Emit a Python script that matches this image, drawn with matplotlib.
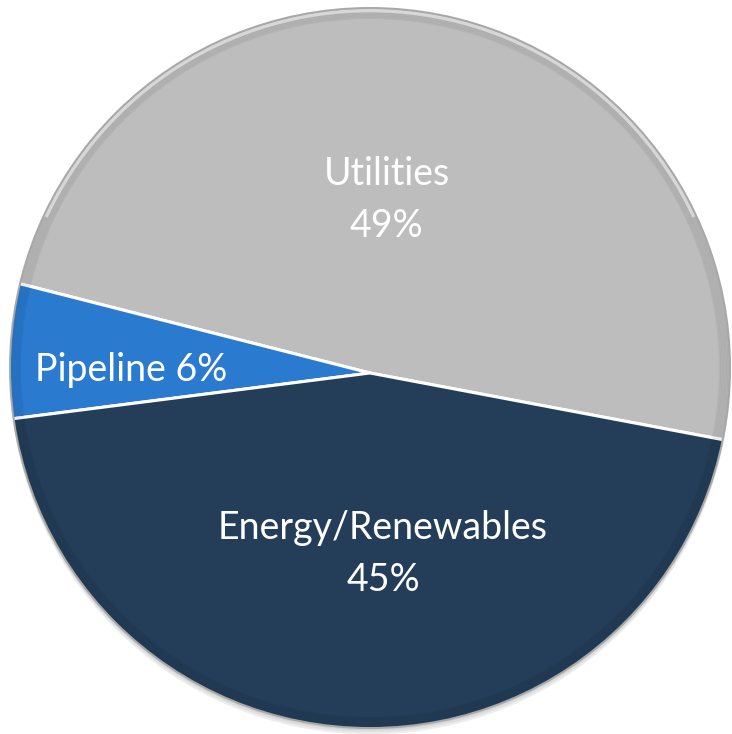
import matplotlib
matplotlib.use("Agg")
import matplotlib.pyplot as plt
from matplotlib.patches import Circle, Wedge

categories = ["Utilities", "Pipeline", "Energy/Renewables"]
values = [49, 6, 45]
colors = ["#BDBDBD", "#2A7ACF", "#243E59"]
labels = ["Utilities\n49%", "Pipeline 6%", "Energy/Renewables\n45%"]

fig = plt.figure(figsize=(7.32, 7.34), dpi=100)
ax = fig.add_axes([0, 0, 1, 1])

# soft shadow below the disc
for i, a in enumerate([0.06, 0.06, 0.07]):
    ax.add_patch(Circle((0.0, -0.006 * (i + 1)), 1.0, facecolor="black",
                        alpha=a, edgecolor="none", zorder=0))

wedges, _ = ax.pie(values, colors=colors, startangle=-10.7, counterclock=True,
                   radius=1.03, center=(0.0, -5 / 360),
                   wedgeprops=dict(edgecolor="white", linewidth=2.2),
                   frame=True)
clip = Circle((0, 0), 1.0, transform=ax.transData)
for w in wedges:
    w.set_zorder(2)
    w.set_clip_on(True)
    w.set_clip_path(clip)

ax.set_xlim(-370 / 360, (732 - 370) / 360)
ax.set_ylim(-(734 - 368) / 360, 368 / 360)
ax.set_aspect("auto")
ax.axis("off")

# bevel: darkening toward the rim
for k in range(8):
    r = 1.0 - 0.004 * k
    ax.add_patch(Circle((0, 0), r, facecolor="none", edgecolor="black",
                        alpha=0.045, linewidth=1.6, zorder=3))
# top highlight
ax.add_patch(Wedge((0, 0), 0.998, 25, 155, width=0.01, facecolor="white",
                   alpha=0.5, edgecolor="none", zorder=3))
ax.add_patch(Circle((0, 0), 1.0, facecolor="none", edgecolor="#A8A8A8",
                    linewidth=1.4, zorder=4))

label_pos = [(0.047, 0.467), (-0.664, -0.006), (0.036, -0.516)]
for txt, (x, y) in zip(labels, label_pos):
    ax.text(x, y, txt, ha="center", va="center", color="white",
            fontsize=27, family="Lato", linespacing=1.55, zorder=5)

fig.savefig("out.png", dpi=100)
